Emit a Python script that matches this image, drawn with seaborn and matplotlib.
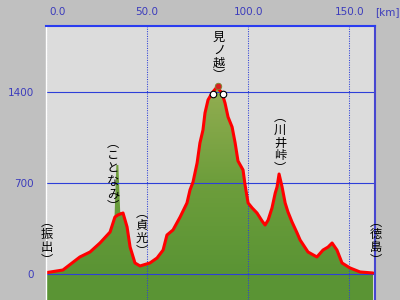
import numpy as np
import pandas as pd
import matplotlib
matplotlib.use("Agg")
import matplotlib.pyplot as plt
import matplotlib.transforms as mtransforms
from matplotlib.colors import LinearSegmentedColormap
import seaborn as sns

# ---- data ----
route_km = [0.0, 8.5, 16.9, 21.9, 26.8, 31.8, 34.2, 35.7, 38.2, 40.2, 41.7, 44.1, 46.6,
            51.5, 55.0, 58.0, 59.9, 62.9, 66.4, 69.8, 71.3, 72.8, 74.8, 76.2, 77.7,
            78.7, 80.2, 82.2, 84.6, 87.1, 88.6, 90.1, 92.1, 93.6, 95.0, 97.5, 98.5,
            100.0, 102.0, 104.4, 106.9, 108.4, 109.9, 111.8, 113.4, 114.3, 115.3,
            116.8, 118.3, 119.7, 121.7, 124.2, 125.7, 129.6, 134.0, 137.0, 139.5,
            141.5, 143.9, 146.4, 150.3, 155.3, 161.7]
route_elev = [12, 33, 133, 171, 240, 324, 439, 455, 470, 363, 209, 87, 64,
              87, 125, 186, 301, 340, 439, 547, 647, 708, 853, 1007, 1106,
              1237, 1337, 1390, 1436, 1390, 1313, 1206, 1129, 1007, 869, 800, 685,
              547, 509, 470, 409, 378, 416, 508, 623, 669, 769,
              669, 547, 478, 401, 317, 263, 171, 133, 186, 209,
              240, 186, 87, 49, 18, 10]

# terrain (green) profile: same route plus narrow spikes
terrain_km = [0.0, 8.5, 16.9, 21.9, 26.8, 31.8, 34.0, 34.6, 34.9, 35.9, 36.4, 36.8, 38.2,
              40.2, 41.7, 44.1, 46.6, 51.5, 55.0, 58.0, 59.9, 62.9, 66.4, 69.8, 71.3,
              72.8, 74.8, 76.2, 77.7, 78.7, 80.2, 82.2, 84.6, 87.1, 88.6, 90.1, 92.1,
              93.6, 95.0, 97.5, 98.5, 100.0, 102.0, 104.4, 106.9, 108.4, 109.9, 111.8,
              113.4, 114.3, 115.3, 116.8, 118.3, 119.7, 121.7, 124.2, 125.7, 129.6,
              134.0, 137.0, 139.5, 141.5, 143.9, 146.4, 150.3, 155.3, 161.7]
terrain_elev = [10, 30, 128, 166, 235, 318, 440, 700, 838, 838, 640, 480, 462,
                356, 203, 82, 60, 82, 120, 181, 296, 335, 433, 541, 641,
                702, 847, 1001, 1100, 1231, 1331, 1385, 1436, 1385, 1307, 1200, 1123,
                1001, 863, 794, 679, 541, 503, 464, 403, 372, 410, 502,
                617, 663, 765, 663, 541, 472, 395, 311, 257, 165,
                127, 180, 215, 236, 180, 82, 44, 14, 6]

place_km = [0.5, 33.3, 47.4, 85.6, 115.8, 163.0]
place_elev = [255, 761, 324, 1670, 1007, 255]
place_names = ["︵\n振\n出\n︶", "︵\nこ\nと\nな\nみ\n︶", "︵\n貞\n光\n︶",
               "見\nノ\n越\n︶", "︵\n川\n井\n峠\n︶", "︵\n徳\n島\n︶"]

x_ticks = [0, 50, 100, 150]
x_tick_labels = ["0.0", "50.0", "100.0", "150.0"]
y_ticks = [0, 700, 1400]
y_tick_labels = ["0", "700", "1400"]

wheel_km = [82.8, 87.7]
wheel_elev = [1379, 1379]
rider_km = [85.3]
rider_elev = [1440]

# ---- style ----
sns.set_theme(style="white")
plt.rcParams["font.family"] = ["DejaVu Sans"]
cjk = ["Noto Sans CJK JP", "DejaVu Sans"]
tick_color = "#3c3cbc"
grid_blue = "#2d3fd8"

fig = plt.figure(figsize=(4, 3), dpi=100, facecolor="#c0c0c0")
ax = fig.add_axes([45.7 / 400, 0, (375 - 45.7) / 400, (300 - 25.7) / 300])
ax.set_facecolor("#dcdcdc")
XMAX, YMIN, YMAX = 162.7, -197, 1906
ax.set_xlim(0, XMAX)
ax.set_ylim(YMIN, YMAX)

# green terrain with elevation gradient
poly = ax.fill_between(terrain_km, terrain_elev, YMIN, color="none", lw=0)
cmap = LinearSegmentedColormap.from_list("g", ["#5a9434", "#6e9e3c", "#94ae52"])
grad = np.linspace(0, 1, 256).reshape(-1, 1)
img = ax.imshow(grad, cmap=cmap, origin="lower", aspect="auto",
                extent=[0, XMAX, 0, 1450], zorder=1)
img.set_clip_path(poly.get_paths()[0], transform=ax.transData)
ax.fill_between(terrain_km, np.minimum(terrain_elev, 0), YMIN,
                color="#5a9434", lw=0, zorder=1)

# grid lines
for yv in y_ticks:
    ax.axhline(yv, color=grid_blue, lw=0.8, zorder=2)
for xv in x_ticks:
    ax.axvline(xv, color=grid_blue, lw=0.75, ls=(0, (1, 1.3)), zorder=2)

# route line
df = pd.DataFrame({"km": route_km, "elev": route_elev})
sns.lineplot(data=df, x="km", y="elev", sort=False, color="#ff0000", lw=2.2,
             ax=ax, zorder=3)

# bike icon at summit
ax.scatter(rider_km, rider_elev, s=22, color="#d82020", edgecolor="#7a8a30",
           lw=0.6, zorder=4)
ax.scatter(wheel_km, wheel_elev, s=22, color="white", edgecolor="black",
           lw=0.8, zorder=5)

# place labels: vertical stacks of upright characters
for xk, ye, name in zip(place_km, place_elev, place_names):
    ax.text(xk, ye, name, ha="center", va="center", fontsize=8.8,
            linespacing=0.97, family=cjk, color="black", clip_on=False, zorder=8)

# ticks
ax.xaxis.tick_top()
ax.set_xticks(x_ticks)
ax.set_xticklabels(x_tick_labels)
ax.set_yticks(y_ticks)
ax.set_yticklabels(y_tick_labels)
ax.tick_params(axis="x", length=0, pad=6, labelsize=7.5, labelcolor=tick_color)
ax.tick_params(axis="y", length=0, pad=8.4, labelsize=7.5, labelcolor=tick_color)
first = ax.get_xticklabels()[0]
first.set_transform(first.get_transform() +
                    mtransforms.ScaledTranslation(0.12, 0, fig.dpi_scale_trans))
ax.text(168.6, 1.0, "[km]", ha="center", va="bottom", fontsize=7.5,
        color=tick_color, clip_on=False,
        transform=ax.get_xaxis_transform() +
        mtransforms.ScaledTranslation(0, 6 / 72, fig.dpi_scale_trans))
ax.set_xlabel("")
ax.set_ylabel("")

ax.spines["bottom"].set_visible(False)
ax.spines["left"].set_color("white")
ax.spines["left"].set_linewidth(1.0)
ax.spines["top"].set_color("#2a3cf0")
ax.spines["top"].set_linewidth(1.5)
ax.spines["right"].set_color("#4646d0")
ax.spines["right"].set_linewidth(1.5)
for s in ax.spines.values():
    s.set_zorder(7)

fig.savefig("out.png", dpi=100, facecolor=fig.get_facecolor())
